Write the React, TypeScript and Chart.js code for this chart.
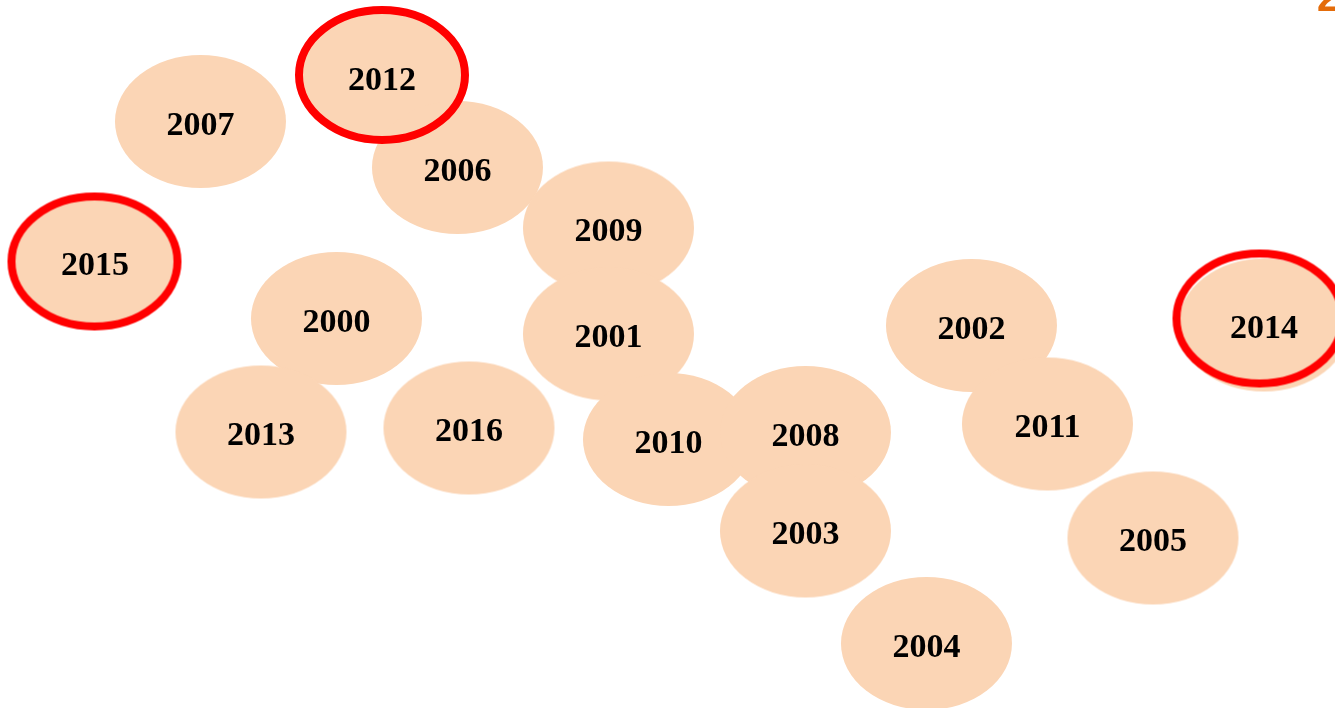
import React, { useEffect, useRef } from "react";
import { Chart, registerables } from "chart.js";

Chart.register(...registerables);

// Bubble labels (years) and their positions on the (hidden) x/y scales
const years = ["2007", "2012", "2006", "2009", "2015", "2000", "2001", "2002", "2014", "2013", "2016", "2010", "2008", "2003", "2011", "2005", "2004"];
const xValues = [200.5, 382, 457.5, 608.5, 95, 336.5, 608.5, 971.5, 1264, 261, 469, 668.5, 805.5, 805.5, 1047.5, 1153, 926.5];
const yValues = [121.5, 77, 167.5, 228, 262, 318.5, 334, 325.5, 325, 432, 428, 439.5, 432.5, 531, 424, 538, 643.5];

// Highlighted years (red rings) and the ring positions
const highlightYears = ["2012", "2015", "2014"];
const ringX = [382, 94.5, 1259.5];
const ringY = [75, 261.5, 318.5];

// Cut-off heading fragment at the top right
const headingFragment = "2";

const FILL = "#FBD5B5";
const RING = "#FF0000";

function makeEllipse(rx: number, ry: number, fill: string | null, stroke: string | null, lw: number) {
  const c = document.createElement("canvas");
  const pad = stroke ? lw / 2 + 1 : 1;
  c.width = Math.ceil(2 * (rx + pad));
  c.height = Math.ceil(2 * (ry + pad));
  const ctx = c.getContext("2d")!;
  ctx.beginPath();
  ctx.ellipse(c.width / 2, c.height / 2, rx, ry, 0, 0, Math.PI * 2);
  if (fill) {
    ctx.fillStyle = fill;
    ctx.fill();
  }
  if (stroke) {
    ctx.strokeStyle = stroke;
    ctx.lineWidth = lw;
    ctx.stroke();
  }
  return c;
}

const labelPlugin = {
  id: "yearLabels",
  afterDatasetsDraw(chart: any) {
    const ctx = chart.ctx;
    const meta = chart.getDatasetMeta(0);
    ctx.save();
    ctx.fillStyle = "#000000";
    ctx.font = "bold 34px 'Liberation Serif', serif";
    ctx.textAlign = "center";
    ctx.textBaseline = "alphabetic";
    meta.data.forEach((el: any, i: number) => {
      ctx.fillText(years[i], el.x, el.y + 13);
    });
    // heading fragment
    ctx.fillStyle = "#E46C0A";
    ctx.font = "bold 40px 'Liberation Sans', sans-serif";
    ctx.textAlign = "left";
    ctx.fillText(headingFragment, chart.width - 18, 11);
    ctx.restore();
  },
};

export default function App() {
  const ref = useRef<HTMLCanvasElement | null>(null);
  useEffect(() => {
    if (!ref.current) return;
    const fillImg = makeEllipse(85.5, 66.5, FILL, null, 0);
    const ringImg = makeEllipse(83, 65, null, RING, 8);
    const chart = new Chart(ref.current, {
      type: "scatter",
      data: {
        datasets: [
          {
            label: "Years",
            data: years.map((_, i) => ({ x: xValues[i], y: yValues[i] })),
            pointStyle: fillImg as any,
            pointRadius: 10,
            clip: false as any,
            order: 2,
          },
          {
            label: "Highlighted",
            data: highlightYears.map((_, i) => ({ x: ringX[i], y: ringY[i] })),
            pointStyle: ringImg as any,
            pointRadius: 10,
            clip: false as any,
            order: 1,
          },
        ],
      },
      options: {
        responsive: false,
        animation: false,
        events: [],
        layout: { padding: 0, autoPadding: false },
        plugins: { legend: { display: false }, tooltip: { enabled: false }, title: { display: false } },
        scales: {
          x: { type: "linear", min: 0, max: 1335, display: false },
          y: { type: "linear", min: 0, max: 708, reverse: true, display: false },
        },
      },
      plugins: [labelPlugin],
    });
    return () => chart.destroy();
  }, []);
  return (
    <div style={{ position: "fixed", left: 0, top: 0, width: 1335, height: 708, background: "#ffffff" }}>
      <canvas ref={ref} width={1335} height={708} style={{ display: "block" }} />
    </div>
  );
}
